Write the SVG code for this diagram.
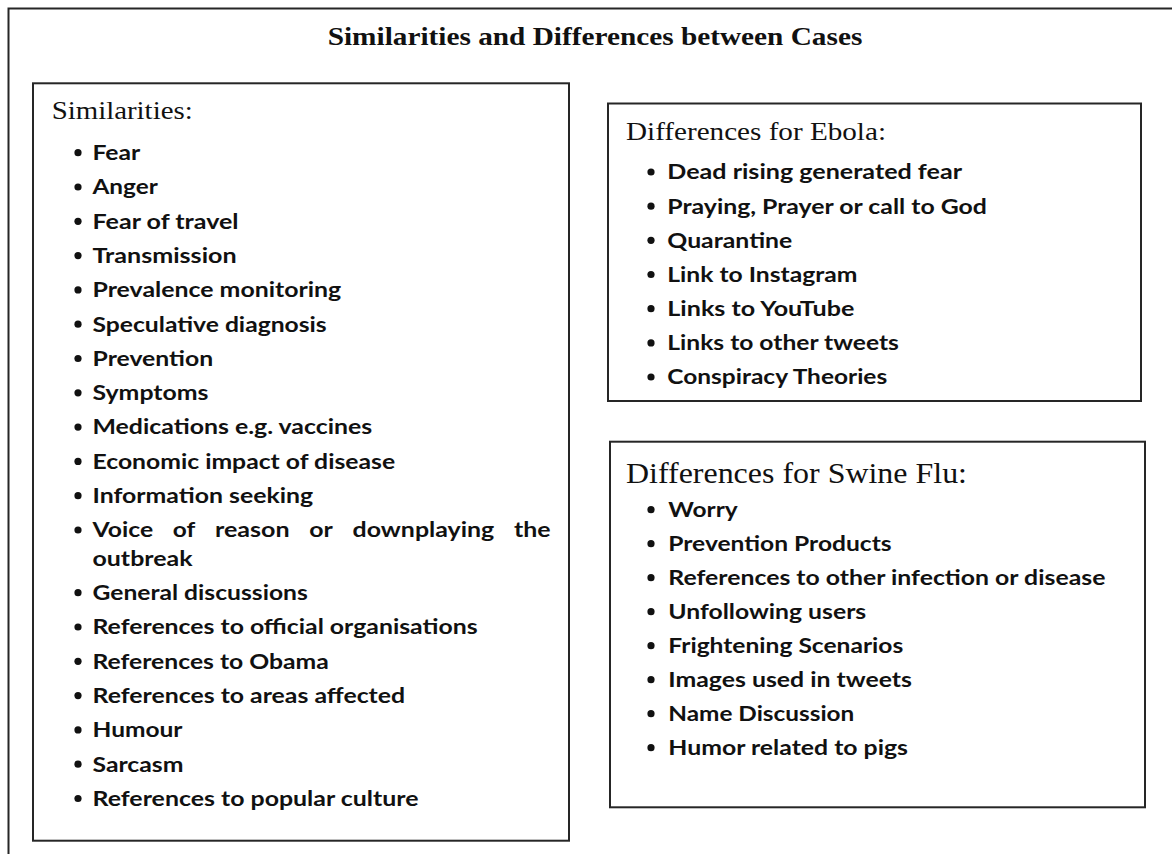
<svg xmlns="http://www.w3.org/2000/svg" width="1172" height="854" viewBox="0 0 1172 854">
<style>
.box{fill:#fff;stroke:#262626;stroke-width:2}
.title{font-family:"Liberation Serif","Times New Roman",serif;font-weight:bold;font-size:26px;fill:#111}
.head{font-family:"Liberation Serif","Times New Roman",serif;font-size:26px;fill:#111}
.item{font-family:Lato,"Open Sans",sans-serif;font-weight:bold;font-size:20px;fill:#111}
.dot{fill:#111}
</style>
<rect width="1172" height="854" fill="#fff"/>
<rect class="box" x="8.5" y="8.5" width="1200" height="900"/>
<g id="title">
<text class="title" x="327.7" y="45" textLength="534.6" lengthAdjust="spacingAndGlyphs">Similarities and Differences between Cases</text>
</g>
<g id="similarities">
<rect class="box" x="33" y="83.3" width="536" height="757.4"/>
<text class="head" x="51.7" y="119" textLength="141" lengthAdjust="spacingAndGlyphs">Similarities:</text>
<g class="dot">
<circle cx="78" cy="152.7" r="3.6"/><circle cx="78" cy="187" r="3.6"/><circle cx="78" cy="221.3" r="3.6"/><circle cx="78" cy="255.6" r="3.6"/><circle cx="78" cy="289.9" r="3.6"/><circle cx="78" cy="324.2" r="3.6"/><circle cx="78" cy="358.5" r="3.6"/><circle cx="78" cy="392.8" r="3.6"/><circle cx="78" cy="427.1" r="3.6"/><circle cx="78" cy="461.4" r="3.6"/><circle cx="78" cy="495.7" r="3.6"/><circle cx="78" cy="530" r="3.6"/><circle cx="78" cy="592.7" r="3.6"/><circle cx="78" cy="627" r="3.6"/><circle cx="78" cy="661.3" r="3.6"/><circle cx="78" cy="695.6" r="3.6"/><circle cx="78" cy="729.9" r="3.6"/><circle cx="78" cy="764.2" r="3.6"/><circle cx="78" cy="798.5" r="3.6"/>
</g>
<text class="item" x="92.5" y="160" textLength="47.8" lengthAdjust="spacingAndGlyphs">Fear</text>
<text class="item" x="92.5" y="194.3" textLength="65.3" lengthAdjust="spacingAndGlyphs">Anger</text>
<text class="item" x="92.5" y="228.6" textLength="146.1" lengthAdjust="spacingAndGlyphs">Fear of travel</text>
<text class="item" x="92.5" y="262.9" textLength="144.1" lengthAdjust="spacingAndGlyphs">Transmission</text>
<text class="item" x="92.5" y="297.2" textLength="248.7" lengthAdjust="spacingAndGlyphs">Prevalence monitoring</text>
<text class="item" x="92.5" y="331.5" textLength="234.2" lengthAdjust="spacingAndGlyphs">Speculative diagnosis</text>
<text class="item" x="92.5" y="365.8" textLength="120.7" lengthAdjust="spacingAndGlyphs">Prevention</text>
<text class="item" x="92.5" y="400.1" textLength="116" lengthAdjust="spacingAndGlyphs">Symptoms</text>
<text class="item" x="92.5" y="434.4" textLength="279.7" lengthAdjust="spacingAndGlyphs">Medications e.g. vaccines</text>
<text class="item" x="92.5" y="468.7" textLength="302.6" lengthAdjust="spacingAndGlyphs">Economic impact of disease</text>
<text class="item" x="92.5" y="503" textLength="220.6" lengthAdjust="spacingAndGlyphs">Information seeking</text>
<text class="item" y="537.3"><tspan x="92.5" textLength="60.6" lengthAdjust="spacingAndGlyphs">Voice</tspan><tspan x="172.8" textLength="22.5" lengthAdjust="spacingAndGlyphs">of</tspan><tspan x="215" textLength="74.6" lengthAdjust="spacingAndGlyphs">reason</tspan><tspan x="309.3" textLength="23.6" lengthAdjust="spacingAndGlyphs">or</tspan><tspan x="352.6" textLength="141.6" lengthAdjust="spacingAndGlyphs">downplaying</tspan><tspan x="513.9" textLength="36.6" lengthAdjust="spacingAndGlyphs">the</tspan></text>
<text class="item" x="92.5" y="565.7" textLength="100" lengthAdjust="spacingAndGlyphs">outbreak</text>
<text class="item" x="92.5" y="600" textLength="215.3" lengthAdjust="spacingAndGlyphs">General discussions</text>
<text class="item" x="92.5" y="634.3" textLength="385.1" lengthAdjust="spacingAndGlyphs">References to official organisations</text>
<text class="item" x="92.5" y="668.6" textLength="236.3" lengthAdjust="spacingAndGlyphs">References to Obama</text>
<text class="item" x="92.5" y="702.9" textLength="312.6" lengthAdjust="spacingAndGlyphs">References to areas affected</text>
<text class="item" x="92.5" y="737.2" textLength="90" lengthAdjust="spacingAndGlyphs">Humour</text>
<text class="item" x="92.5" y="771.5" textLength="91" lengthAdjust="spacingAndGlyphs">Sarcasm</text>
<text class="item" x="92.5" y="805.8" textLength="326" lengthAdjust="spacingAndGlyphs">References to popular culture</text>
</g>
<g id="ebola">
<rect class="box" x="608" y="103.5" width="533" height="297.5"/>
<text class="head" x="626" y="140" textLength="260" lengthAdjust="spacingAndGlyphs">Differences for Ebola:</text>
<g class="dot">
<circle cx="651" cy="172" r="3.6"/><circle cx="651" cy="206.2" r="3.6"/><circle cx="651" cy="240.3" r="3.6"/><circle cx="651" cy="274.5" r="3.6"/><circle cx="651" cy="308.7" r="3.6"/><circle cx="651" cy="342.9" r="3.6"/><circle cx="651" cy="377" r="3.6"/>
</g>
<text class="item" x="667.3" y="179.3" textLength="294.7" lengthAdjust="spacingAndGlyphs">Dead rising generated fear</text>
<text class="item" x="667.3" y="213.5" textLength="319.6" lengthAdjust="spacingAndGlyphs">Praying, Prayer or call to God</text>
<text class="item" x="667.3" y="247.6" textLength="125" lengthAdjust="spacingAndGlyphs">Quarantine</text>
<text class="item" x="667.3" y="281.8" textLength="190.2" lengthAdjust="spacingAndGlyphs">Link to Instagram</text>
<text class="item" x="667.3" y="316" textLength="187.1" lengthAdjust="spacingAndGlyphs">Links to YouTube</text>
<text class="item" x="667.3" y="350.2" textLength="231.6" lengthAdjust="spacingAndGlyphs">Links to other tweets</text>
<text class="item" x="667.3" y="384.3" textLength="219.9" lengthAdjust="spacingAndGlyphs">Conspiracy Theories</text>
</g>
<g id="swine">
<rect class="box" x="610" y="441.7" width="535" height="365.6"/>
<text class="head" x="626" y="483.3" font-size="29" textLength="341" lengthAdjust="spacingAndGlyphs" style="font-size:29px">Differences for Swine Flu:</text>
<g class="dot">
<circle cx="651" cy="509.7" r="3.6"/><circle cx="651" cy="543.7" r="3.6"/><circle cx="651" cy="577.7" r="3.6"/><circle cx="651" cy="611.7" r="3.6"/><circle cx="651" cy="645.7" r="3.6"/><circle cx="651" cy="679.7" r="3.6"/><circle cx="651" cy="713.7" r="3.6"/><circle cx="651" cy="747.7" r="3.6"/>
</g>
<text class="item" x="668.3" y="517" textLength="69.4" lengthAdjust="spacingAndGlyphs">Worry</text>
<text class="item" x="668.3" y="551" textLength="223.3" lengthAdjust="spacingAndGlyphs">Prevention Products</text>
<text class="item" x="668.3" y="585" textLength="437.1" lengthAdjust="spacingAndGlyphs">References to other infection or disease</text>
<text class="item" x="668.3" y="619" textLength="197.9" lengthAdjust="spacingAndGlyphs">Unfollowing users</text>
<text class="item" x="668.3" y="653" textLength="235" lengthAdjust="spacingAndGlyphs">Frightening Scenarios</text>
<text class="item" x="668.3" y="687" textLength="243.7" lengthAdjust="spacingAndGlyphs">Images used in tweets</text>
<text class="item" x="668.3" y="721" textLength="186" lengthAdjust="spacingAndGlyphs">Name Discussion</text>
<text class="item" x="668.3" y="755" textLength="239.7" lengthAdjust="spacingAndGlyphs">Humor related to pigs</text>
</g>
</svg>
